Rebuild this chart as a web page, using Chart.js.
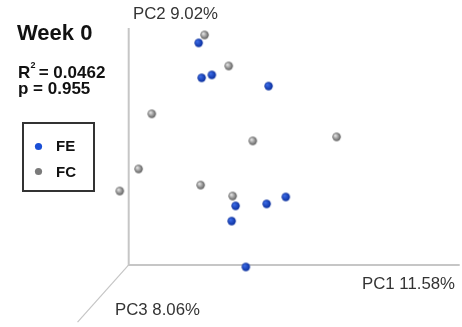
<!DOCTYPE html>
<html>
<head>
<meta charset="utf-8">
<script src="https://cdn.jsdelivr.net/npm/chart.js@4/dist/chart.umd.min.js"></script>
<style>
html,body{margin:0;padding:0;background:#fff;}
#wrap{width:462px;height:327px;position:relative;}
</style>
</head>
<body>
<div id="wrap"><canvas id="c" width="462" height="327"></canvas></div>
<script>
// Projected PCA coordinates (PC1 horizontal, PC2 vertical, PC3 depth projected)
const feX = [21.2, 22.1, 25.2, 42.4, 32.4, 41.8, 47.6, 31.2, 35.5];
const feY = [67.3, 56.7, 57.6, 54.2, 17.9, 18.5, 20.6, 13.3, -0.6];
const fcX = [23.0, 30.3, 7.0, 37.6, 63.0, 3.0, -2.7, 21.8, 31.5];
const fcY = [69.7, 60.3, 45.8, 37.6, 38.8, 29.1, 22.4, 24.2, 20.9];
const seriesLabels = ["FE", "FC"];
const axisLabels = ["PC1 11.58%", "PC2 9.02%", "PC3 8.06%"];
const titleText = "Week 0";
const statR = "0.0462";
const statP = "0.955";

function ball(c1, c2, r) {
  const s = Math.ceil(r * 2 + 2);
  const cv = document.createElement('canvas');
  cv.width = s; cv.height = s;
  const g = cv.getContext('2d');
  const grd = g.createRadialGradient(s/2 - r*0.35, s/2 - r*0.35, 0.5, s/2, s/2, r);
  grd.addColorStop(0, c1);
  grd.addColorStop(1, c2);
  g.fillStyle = grd;
  g.beginPath(); g.arc(s/2, s/2, r, 0, Math.PI*2); g.fill();
  return cv;
}
const blueBall = ball('#3a6ae6', '#0a2e9c', 4.2);
const grayBall = ball('#e2e2e2', '#5c5c5c', 4.2);

const toPts = (xs, ys) => xs.map((x, i) => ({x: x, y: ys[i]}));
const FONT = '"Liberation Sans", Arial, sans-serif';

const axesPlugin = {
  id: 'axes3d',
  beforeDatasetsDraw(chart) {
    const {ctx, scales: {x, y}} = chart;
    ctx.save();
    ctx.strokeStyle = '#c6c6c6';
    ctx.lineWidth = 2;
    ctx.beginPath();
    ctx.moveTo(x.getPixelForValue(0), y.getPixelForValue(71.8));
    ctx.lineTo(x.getPixelForValue(0), y.getPixelForValue(0));
    ctx.lineTo(x.getPixelForValue(100.3), y.getPixelForValue(0));
    ctx.stroke();
    ctx.lineWidth = 1.2;
    ctx.beginPath();
    ctx.moveTo(x.getPixelForValue(0), y.getPixelForValue(0));
    ctx.lineTo(x.getPixelForValue(-15.5), y.getPixelForValue(-17.3));
    ctx.stroke();
    ctx.restore();
  },
  afterDraw(chart) {
    const {ctx} = chart;
    ctx.save();
    ctx.textBaseline = 'middle';
    ctx.textAlign = 'left';
    // axis labels
    ctx.fillStyle = '#333';
    ctx.font = '16.8px ' + FONT;
    ctx.fillText(axisLabels[1], 133, 14);
    ctx.fillText(axisLabels[0], 362, 284.5);
    ctx.fillText(axisLabels[2], 115, 310.5);
    // title and stats
    ctx.fillStyle = '#111';
    ctx.font = 'bold 22px ' + FONT;
    ctx.fillText(titleText, 17, 34);
    ctx.font = 'bold 17px ' + FONT;
    ctx.fillText('R', 18, 73);
    ctx.font = 'bold 9px ' + FONT;
    ctx.fillText('2', 30.5, 66);
    ctx.font = 'bold 17px ' + FONT;
    ctx.fillText(' = ' + statR, 34, 73);
    ctx.fillText('p = ' + statP, 18, 89.5);
    // legend box
    ctx.strokeStyle = '#333';
    ctx.lineWidth = 2;
    ctx.strokeRect(23, 123, 71, 68);
    ctx.fillStyle = '#1a4fd6';
    ctx.beginPath(); ctx.arc(38.5, 146.5, 3.6, 0, Math.PI*2); ctx.fill();
    ctx.fillStyle = '#7a7a7a';
    ctx.beginPath(); ctx.arc(38.5, 171.5, 3.6, 0, Math.PI*2); ctx.fill();
    ctx.fillStyle = '#111';
    ctx.font = 'bold 15px ' + FONT;
    ctx.fillText(seriesLabels[0], 56, 147);
    ctx.fillText(seriesLabels[1], 56, 172.5);
    ctx.restore();
  }
};

new Chart(document.getElementById('c'), {
  type: 'scatter',
  data: {
    datasets: [
      {label: seriesLabels[1], data: toPts(fcX, fcY), pointStyle: grayBall, pointRadius: 4.5, clip: false},
      {label: seriesLabels[0], data: toPts(feX, feY), pointStyle: blueBall, pointRadius: 4.5, clip: false}
    ]
  },
  options: {
    responsive: false,
    animation: false,
    layout: {padding: 0, autoPadding: false},
    plugins: {legend: {display: false}, tooltip: {enabled: false}},
    scales: {
      x: {type: 'linear', min: -39, max: 101, display: false},
      y: {type: 'linear', min: -18.8, max: 80.3, display: false}
    }
  },
  plugins: [axesPlugin]
});
</script>
</body>
</html>
